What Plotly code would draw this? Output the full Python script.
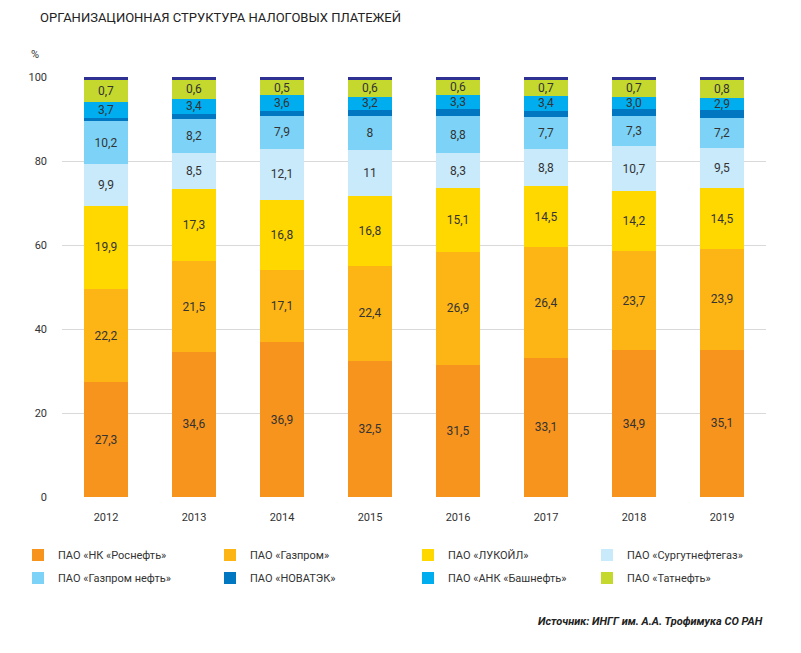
import plotly.graph_objects as go

years = ["2012", "2013", "2014", "2015", "2016", "2017", "2018", "2019"]

rosneft = [27.3, 34.6, 36.9, 32.5, 31.5, 33.1, 34.9, 35.1]
gazprom = [22.2, 21.5, 17.1, 22.4, 26.9, 26.4, 23.7, 23.9]
lukoil = [19.9, 17.3, 16.8, 16.8, 15.1, 14.5, 14.2, 14.5]
surgut = [9.9, 8.5, 12.1, 11.0, 8.3, 8.8, 10.7, 9.5]
gpn = [10.2, 8.2, 7.9, 8.0, 8.8, 7.7, 7.3, 7.2]
novatek = [0.8, 1.2, 1.2, 1.4, 1.8, 1.5, 1.5, 2.0]
bashneft = [3.7, 3.4, 3.6, 3.2, 3.3, 3.4, 3.0, 2.9]
# Tatneft: segment heights as drawn vs. printed labels
tatneft_drawn = [5.4, 4.7, 3.8, 4.1, 3.7, 4.0, 4.1, 4.3]
tatneft_label = ["0,7", "0,6", "0,5", "0,6", "0,6", "0,7", "0,7", "0,8"]
other = [0.6, 0.6, 0.6, 0.6, 0.6, 0.6, 0.6, 0.6]

surgut_label = ["9,9", "8,5", "12,1", "11", "8,3", "8,8", "10,7", "9,5"]
gpn_label = ["10,2", "8,2", "7,9", "8", "8,8", "7,7", "7,3", "7,2"]
bashneft_label = ["3,7", "3,4", "3,6", "3,2", "3,3", "3,4", "3,0", "2,9"]


def fmt(vals):
    out = []
    for v in vals:
        s = ("%.1f" % v).replace(".", ",")
        if s.endswith(",0"):
            s = s[:-2]
        out.append(s)
    return out


FONT = "Roboto, Liberation Sans Narrow, sans-serif"
TXT = "#333333"

# the page body adds an 8px offset; compensate so the plot area sits where intended
OFF = 8
W, H = 801 - OFF, 653 - OFF
L, T, PW, PH = 62 - OFF, 77 - OFF, 704, 420

series = [
    ("ПАО «НК «Роснефть»", rosneft, fmt(rosneft), "#F7941D", 147, "legend"),
    ("ПАО «Газпром»", gazprom, fmt(gazprom), "#FDB515", 153, "legend"),
    ("ПАО «ЛУКОЙЛ»", lukoil, fmt(lukoil), "#FFD800", 134, "legend"),
    ("ПАО «Сургутнефтегаз»", surgut, surgut_label, "#C9EAFB", 130, "legend"),
    ("ПАО «Газпром нефть»", gpn, gpn_label, "#7DD3F7", 147, "legend2"),
    ("ПАО «НОВАТЭК»", novatek, [""] * 8, "#0077C0", 153, "legend2"),
    ("ПАО «АНК «Башнефть»", bashneft, bashneft_label, "#00AEEF", 134, "legend2"),
    ("ПАО «Татнефть»", tatneft_drawn, tatneft_label, "#C5D82E", 130, "legend2"),
    ("Прочие", other, [""] * 8, "#2E3192", 100, None),
]

fig = go.Figure()
for name, vals, labels, color, lw, leg in series:
    fig.add_trace(go.Bar(
        x=years, y=vals, name=name, text=labels, texttemplate="%{text}",
        textposition="inside", insidetextanchor="middle", textangle=0,
        constraintext="none",
        textfont=dict(family=FONT, size=12, color=TXT),
        marker=dict(color=color, line=dict(width=0)),
        legendwidth=lw, showlegend=leg is not None, legend=leg or "legend",
        hoverinfo="skip",
    ))


def py(screen_y):
    return (T + OFF + PH - screen_y) / PH


def px(screen_x):
    return (screen_x - (L + OFF)) / PW


leg_common = dict(orientation="h", xanchor="left", yanchor="middle",
                  traceorder="normal", font=dict(family=FONT, size=11, color=TXT),
                  bgcolor="rgba(0,0,0,0)")

fig.update_layout(
    width=W, height=H,
    margin=dict(l=L, r=W - L - PW, t=T, b=H - T - PH, autoexpand=False),
    barmode="stack", bargap=0.5,
    plot_bgcolor="white", paper_bgcolor="white",
    font=dict(family=FONT, size=12, color=TXT),
    xaxis=dict(showgrid=False, showline=False, ticks="", ticklabelstandoff=12,
               tickfont=dict(size=11, color=TXT)),
    yaxis=dict(range=[0, 100], tickvals=[0, 20, 40, 60, 80, 100],
               showgrid=True, gridcolor="#d9d9d9", gridwidth=1, zeroline=False,
               showline=False, ticks="", ticklabelstandoff=14,
               tickfont=dict(size=11, color=TXT)),
    legend=dict(x=px(18), y=py(555), **leg_common),
    legend2=dict(x=px(18), y=py(578), **leg_common),
    annotations=[
        dict(text="ОРГАНИЗАЦИОННАЯ СТРУКТУРА НАЛОГОВЫХ ПЛАТЕЖЕЙ", xref="paper", yref="paper",
             x=px(38), y=py(17), xanchor="left", yanchor="middle",
             showarrow=False, font=dict(family=FONT, size=13, color="#222222")),
        dict(text="%", xref="paper", yref="paper", x=px(35), y=py(55),
             xanchor="center", yanchor="middle", showarrow=False,
             font=dict(family=FONT, size=11, color=TXT)),
        dict(text="<b><i>Источник: ИНГГ им. А.А. Трофимука СО РАН</i></b>", xref="paper",
             yref="paper", x=px(765), y=py(621), xanchor="right",
             yanchor="middle", showarrow=False,
             font=dict(family=FONT, size=11, color="#222222")),
    ],
)

fig.write_html("out.html")
